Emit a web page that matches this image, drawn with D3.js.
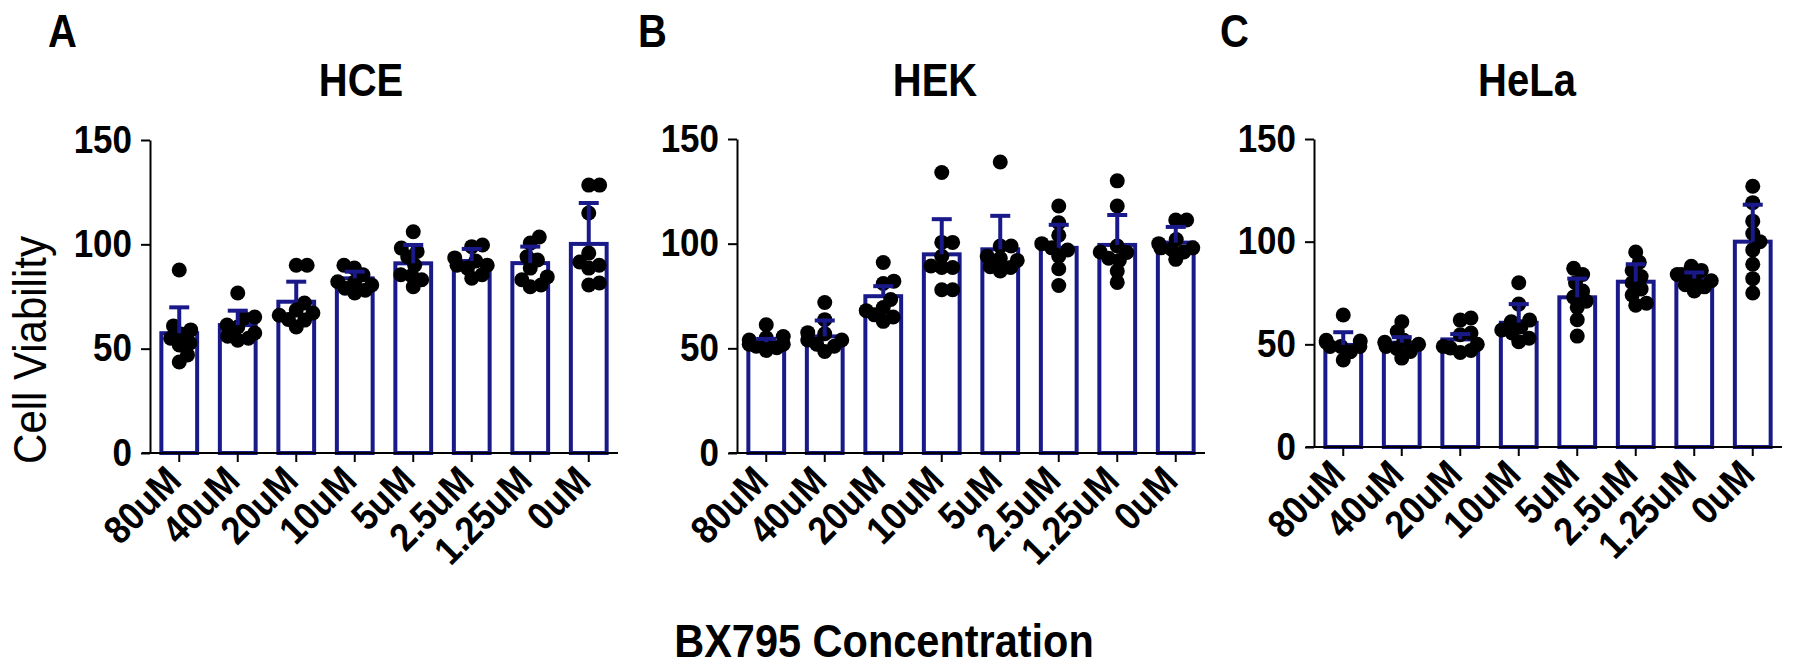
<!DOCTYPE html>
<html>
<head>
<meta charset="utf-8">
<script src="https://cdn.jsdelivr.net/npm/d3@7"></script>
<style>
  body { margin: 0; background: #fff; }
  svg { display: block; }
  text { font-family: "Liberation Sans", Arial, Helvetica, sans-serif; fill: #000; }
</style>
</head>
<body>
<div id="chart"></div>
<script>
// data
const concentrations = ['80uM', '40uM', '20uM', '10uM', '5uM', '2.5uM', '1.25uM', '0uM'];
const cellLines = ['HCE', 'HEK', 'HeLa'];
const panelLetters = ['A', 'B', 'C'];
const yTicks = [0, 50, 100, 150];

const hceMeans = [57.4, 61.3, 72.5, 83.7, 90.9, 92.0, 91.0, 100.2];
const hceSd = [12.4, 6.9, 9.6, 3.2, 8.8, 5.8, 7.9, 19.6];
const hcePoints = [
  [87.7, 60.9, 59, 57, 55, 51.8, 52.7, 47, 43.6],
  [76.7, 65.2, 64.7, 61.3, 60.4, 57.5, 55, 54, 56],
  [90, 90, 71.9, 68.5, 67.1, 66, 63.7, 60.4, 64],
  [90, 88.6, 85.4, 82.1, 82, 80.5, 79, 76.7, 78],
  [106, 98.2, 96.6, 90, 85.4, 85, 83, 79.7, 94],
  [98.9, 99.7, 93.5, 90, 90, 88.6, 85.4, 83.8, 92],
  [100.6, 103.5, 92.5, 88.6, 84.4, 79.7, 80.5, 83, 94],
  [128.4, 128.4, 115, 95.8, 91.5, 90, 88.6, 80.5, 81.5]
];

const hekMeans = [52.9, 55.7, 74.9, 94.9, 97.3, 98.0, 99.4, 100.5];
const hekSd = [1.6, 7.6, 4.8, 16.8, 16.0, 11.0, 14.3, 7.5];
const hekPoints = [
  [61.3, 55.6, 55, 51, 50.3, 49, 52, 52, 54],
  [71.9, 63.7, 57.5, 57, 54, 52, 48.5, 54, 51],
  [91, 82.1, 81, 73.3, 69.5, 68, 66, 62.9, 65],
  [134, 100.6, 100.6, 94, 89.3, 88.6, 88.6, 78, 78],
  [139, 98.9, 98.9, 94, 93, 92, 88.6, 87, 89],
  [118, 110, 104, 100, 98, 97, 94, 88, 80],
  [130, 118, 98.9, 95.8, 93, 92, 86.9, 81.5, 96],
  [111.3, 111.3, 102, 100, 97.3, 92.5, 96, 98, 98]
];

const helaMeans = [49.7, 50.8, 52.4, 60.5, 72.9, 80.5, 82.0, 100.0];
const helaSd = [6.2, 2.7, 2.6, 9.1, 9.1, 8.5, 3.0, 18.0];
const helaPoints = [
  [64.3, 52, 51.6, 49, 46.4, 42.4, 49, 49, 51],
  [61, 56.2, 52, 51, 50, 49, 43.3, 46.5, 48],
  [61.8, 62.8, 55.5, 54.7, 50, 48.2, 46, 47, 49],
  [80, 69.6, 61.8, 61, 58.6, 55.5, 51.3, 53, 57],
  [87, 84, 80, 76, 73, 71, 68, 62, 54],
  [95, 90, 86, 83, 80, 77, 74, 70, 69],
  [88, 86, 84, 82, 81, 79, 78, 76, 84],
  [127, 119, 110, 104, 100, 96, 89, 82, 75]
];

// layout
const WIDTH = 1800;
const HEIGHT = 670;
const BAND_WIDTH = 468;
const BAR_COLOR = '#19198a';
const DOT_R = 7.5;
const FONT_STRETCH = 1.12;

const panels = [
  { letter: panelLetters[0], title: cellLines[0], means: hceMeans, sd: hceSd, points: hcePoints,
    axisX: 150, y0: 453, yTop: 140, titleX: 361, letterX: 48 },
  { letter: panelLetters[1], title: cellLines[1], means: hekMeans, sd: hekSd, points: hekPoints,
    axisX: 737, y0: 453, yTop: 139, titleX: 935, letterX: 638 },
  { letter: panelLetters[2], title: cellLines[2], means: helaMeans, sd: helaSd, points: helaPoints,
    axisX: 1314, y0: 447, yTop: 139, titleX: 1527, letterX: 1220 }
];

const $svg = d3.select('#chart').append('svg')
  .attr('width', WIDTH)
  .attr('height', HEIGHT);

// text with a slight vertical stretch, like the original font
function addText(g, str, x, y, opts) {
  const o = Object.assign({ size: 35, weight: 'bold', anchor: 'middle', rotate: 0, stretch: FONT_STRETCH }, opts);
  return g.append('text')
    .attr('transform', `translate(${x},${y}) rotate(${o.rotate}) scale(1,${o.stretch})`)
    .attr('text-anchor', o.anchor)
    .style('font-size', o.size + 'px')
    .style('font-weight', o.weight)
    .text(str);
}

// simple beeswarm: offsets in pixels for dots of one group (dots may overlap a bit)
function swarm(ys, r) {
  const D = r * 1.45;
  const order = ys.map((y, i) => i).sort((a, b) => ys[b] - ys[a]);
  const placed = [];
  const xs = new Array(ys.length).fill(0);
  order.forEach(i => {
    const y = ys[i];
    const near = placed.filter(p => Math.abs(p.y - y) < D);
    const cands = [0];
    near.forEach(p => {
      const dx = Math.sqrt(D * D - (p.y - y) * (p.y - y));
      cands.push(p.x + dx, p.x - dx);
    });
    cands.sort((a, b) => Math.abs(a) - Math.abs(b));
    let best = cands.find(c => near.every(p => Math.hypot(p.x - c, p.y - y) >= D - 0.01));
    if (best === undefined) best = 0;
    best = Math.max(-17, Math.min(17, best));
    xs[i] = best;
    placed.push({ x: best, y: y });
  });
  return xs;
}

function drawPanel(p) {
  const $g = $svg.append('g').attr('class', 'panel');

  const scaleX = d3.scaleBand()
    .domain(concentrations)
    .range([p.axisX, p.axisX + BAND_WIDTH])
    .paddingInner(0.32)
    .paddingOuter(0.16);

  const scaleY = d3.scaleLinear()
    .domain([0, 150])
    .range([p.y0, p.yTop]);

  const bw = scaleX.bandwidth();
  const cx = d => scaleX(d) + bw / 2;

  // bars
  $g.append('g').selectAll('rect')
    .data(concentrations)
    .join('rect')
    .attr('x', d => scaleX(d) + 2)
    .attr('width', bw - 4)
    .attr('y', (d, i) => scaleY(p.means[i]))
    .attr('height', (d, i) => scaleY(0) - scaleY(p.means[i]))
    .attr('fill', '#fff')
    .attr('stroke', BAR_COLOR)
    .attr('stroke-width', 4);

  // dots
  const $dots = $g.append('g');
  concentrations.forEach((c, i) => {
    const ys = p.points[i].map(v => scaleY(v));
    const xs = swarm(ys, DOT_R);
    $dots.selectAll(null)
      .data(p.points[i])
      .join('circle')
      .attr('cx', (v, j) => cx(c) + xs[j])
      .attr('cy', v => scaleY(v))
      .attr('r', DOT_R)
      .attr('fill', '#000');
  });

  // error bars (upper only)
  const $err = $g.append('g')
    .attr('stroke', BAR_COLOR)
    .attr('stroke-width', 4)
    .attr('fill', 'none');
  concentrations.forEach((c, i) => {
    const top = scaleY(p.means[i] + p.sd[i]);
    $err.append('line')
      .attr('x1', cx(c)).attr('x2', cx(c))
      .attr('y1', scaleY(p.means[i])).attr('y2', top);
    $err.append('line')
      .attr('x1', cx(c) - 10).attr('x2', cx(c) + 10)
      .attr('y1', top).attr('y2', top);
  });

  // y axis
  const $axisY = $g.append('g')
    .attr('transform', `translate(${p.axisX},0)`)
    .call(d3.axisLeft(scaleY).tickValues(yTicks).tickSize(9).tickSizeOuter(0).tickPadding(9));
  $axisY.select('.domain').attr('stroke-width', 2);
  $axisY.selectAll('.tick line').attr('stroke-width', 2);
  $axisY.selectAll('.tick text')
    .attr('x', null).attr('dy', null)
    .attr('transform', `translate(-18,12) scale(1,${FONT_STRETCH})`)
    .style('font-size', '35px')
    .style('font-weight', 'bold')
    .style('font-family', '"Liberation Sans", Arial, sans-serif');

  // x axis
  const $axisX = $g.append('g')
    .attr('transform', `translate(0,${p.y0})`)
    .call(d3.axisBottom(scaleX).tickSize(9).tickSizeOuter(0));
  $axisX.select('.domain').remove();
  $axisX.append('line')
    .attr('x1', p.axisX - 8).attr('x2', p.axisX + BAND_WIDTH)
    .attr('stroke', '#000').attr('stroke-width', 2);
  $axisX.selectAll('.tick line').attr('stroke-width', 2);
  $axisX.selectAll('.tick text')
    .attr('y', null).attr('dy', null)
    .attr('text-anchor', 'end')
    .attr('transform', `translate(4,30) rotate(-45) scale(1,${FONT_STRETCH})`)
    .style('font-size', '35px')
    .style('font-weight', 'bold')
    .style('font-family', '"Liberation Sans", Arial, sans-serif');

  // titles
  addText($g, p.title, p.titleX, 96, { size: 40, stretch: 1.15 });
  addText($g, p.letter, p.letterX, 47, { size: 40, anchor: 'start', stretch: 1.15 });
}

panels.forEach(drawPanel);

// shared axis titles
addText($svg, 'Cell Viability', 46, 350, { size: 42, weight: 'normal', rotate: -90, stretch: 1.1 });
addText($svg, 'BX795 Concentration', 884, 657, { size: 41.5, stretch: 1.12 });
</script>
</body>
</html>
